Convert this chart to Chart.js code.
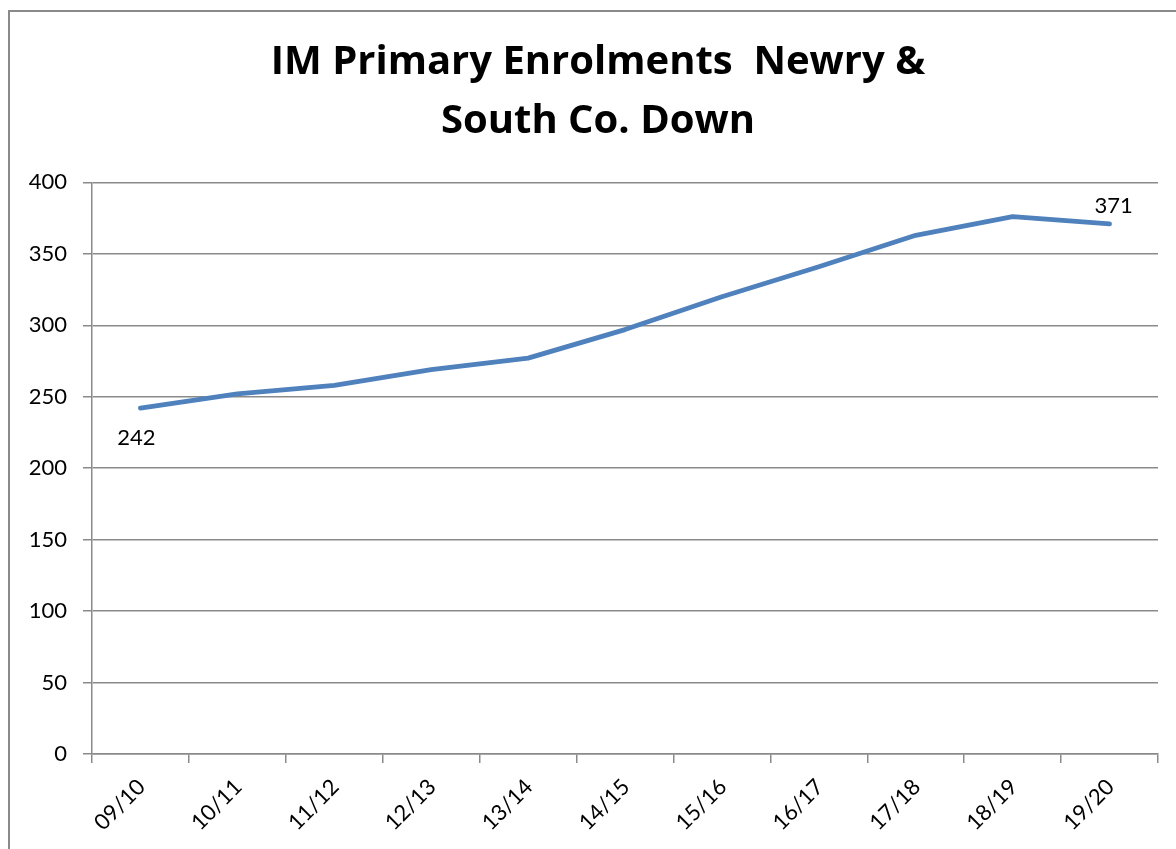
<!DOCTYPE html>
<html>
<head>
<meta charset="utf-8">
<script src="https://cdn.jsdelivr.net/npm/chart.js@4"></script>
<style>
  html, body { margin: 0; padding: 0; background: #fff; }
  #wrap { width: 1176px; height: 849px; }
</style>
</head>
<body>
<div id="wrap"><canvas id="graphEnrol" width="1176" height="849"></canvas></div>
<script>
// Données
const annees = ['09/10', '10/11', '11/12', '12/13', '13/14', '14/15', '15/16', '16/17', '17/18', '18/19', '19/20'];
const inscriptions = [242, 252, 258, 269, 277, 297, 320, 341, 363, 376, 371];
const titre = ['IM Primary Enrolments  Newry &', 'South Co. Down'];

const gris = '#8a8a8a';

// Cadre du graphique (bord gauche et haut) + titre un peu décalé à droite
const cadre = {
  id: 'cadre',
  afterLayout(chart) {
    if (chart.titleBlock) chart.titleBlock.left = 38;
  },
  beforeDraw(chart) {
    const ctx = chart.ctx;
    ctx.save();
    ctx.fillStyle = '#fff';
    ctx.fillRect(0, 0, chart.width, chart.height);
    ctx.strokeStyle = gris;
    ctx.lineWidth = 2;
    ctx.strokeRect(9, 11, chart.width + 20, chart.height + 20);
    ctx.restore();
  }
};

// Étiquettes du premier et du dernier point
const etiquettes = {
  id: 'etiquettes',
  afterDatasetsDraw(chart) {
    const ctx = chart.ctx;
    const pts = chart.getDatasetMeta(0).data;
    const n = pts.length - 1;
    ctx.save();
    ctx.font = '22px Lato';
    ctx.fillStyle = '#000';
    ctx.textAlign = 'center';
    ctx.textBaseline = 'middle';
    ctx.fillText(String(inscriptions[0]), pts[0].x - 4, pts[0].y + 30);
    ctx.fillText(String(inscriptions[n]), pts[n].x + 4, pts[n].y - 18);
    ctx.restore();
  }
};

const chartEnrol = new Chart(document.getElementById('graphEnrol').getContext('2d'), {
  type: 'line',
  data: {
    labels: annees,
    datasets: [{
      label: 'Enrolments',
      data: inscriptions,
      borderColor: '#4f81bd',
      borderWidth: 4.8,
      borderCapStyle: 'round',
      borderJoinStyle: 'round',
      pointRadius: 0,
      tension: 0,
      fill: false
    }]
  },
  options: {
    responsive: false,
    animation: false,
    layout: { padding: { left: 0, right: 18, top: 0, bottom: 0 } },
    scales: {
      x: {
        offset: true,
        grid: { offset: true, drawOnChartArea: false, drawTicks: true, tickLength: 9, color: gris, lineWidth: 1.5 },
        border: { display: true, color: gris, width: 1.5 },
        ticks: { color: '#000', font: { family: 'Lato', size: 22 }, minRotation: 45, maxRotation: 45, padding: 11, labelOffset: 1 },
        afterFit(scale) { scale.height = 95; }
      },
      y: {
        min: 0,
        max: 400,
        ticks: { stepSize: 50, color: '#000', font: { family: 'Lato', size: 22 }, padding: 16 },
        grid: { color: gris, lineWidth: 1.5, tickLength: 9 },
        border: { display: true, color: gris, width: 1.5 },
        afterFit(scale) { scale.width = 92; }
      }
    },
    plugins: {
      legend: { display: false },
      tooltip: { enabled: false },
      title: {
        display: true,
        text: titre,
        color: '#000',
        font: { family: 'Open Sans', size: 40, weight: 'bold', lineHeight: 1.48 },
        padding: { top: 33, bottom: 31 }
      }
    }
  },
  plugins: [cadre, etiquettes]
});
</script>
</body>
</html>
